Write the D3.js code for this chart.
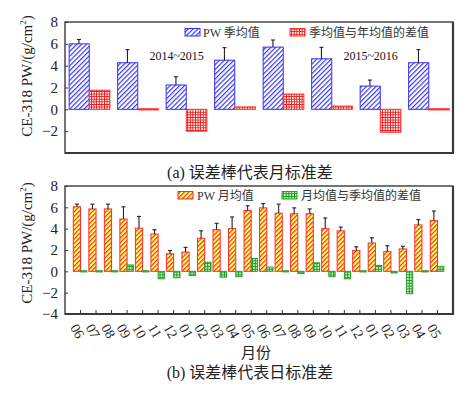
<!DOCTYPE html>
<html><head><meta charset="utf-8">
<script src="https://cdn.jsdelivr.net/npm/d3@7"></script>
<style>
body{margin:0;background:#fff;}
text{font-family:"Liberation Serif","Noto Sans CJK SC",serif;}
</style></head>
<body><svg id="c" width="474" height="394"></svg>
<script>
// ---- Panel (a) data: seasons ----
const seasonsA = ["S1","S2","S3","S4","S5","S6","S7","S8"];
const pwSeason = [6.0, 4.27, 2.23, 4.5, 5.7, 4.63, 2.13, 4.27];
const pwSeasonErr = [0.4, 1.2, 0.75, 1.15, 0.65, 1.05, 0.55, 1.2];
const seasonDiff = [1.75, -0.03, -2.0, 0.22, 1.4, 0.3, -2.1, -0.03];
const yearLabels = ["2014~2015","2015~2016"];
const yTicksA = [8,6,4,2,0,-2];
// ---- Panel (b) data: months ----
const months = ["06","07","08","09","10","11","12","01","02","03","04","05",
                "06","07","08","09","10","11","12","01","02","03","04","05"];
const pwMonth = [6.05,5.85,5.85,4.9,4.05,3.5,1.65,1.8,3.1,3.9,4.0,5.7,
                 5.95,5.45,5.4,5.4,4.0,3.8,1.95,2.65,1.85,2.1,4.35,4.75];
const pwMonthErr = [0.25,0.45,0.45,1.15,1.1,0.4,0.3,0.45,0.7,0.6,1.1,0.45,
                    0.4,0.85,0.55,0.45,1.0,0.35,0.35,0.5,0.55,0.25,0.5,0.9];
const monthDiff = [0.1,-0.1,-0.05,0.6,-0.1,-0.7,-0.6,-0.4,0.85,-0.55,-0.5,1.2,
                   0.4,-0.1,-0.2,0.8,-0.5,-0.7,-0.05,0.55,-0.15,-2.1,0.05,0.45];
const yTicksB = [8,6,4,2,0,-2,-4];

const svg = d3.select("#c");
const defs = svg.append("defs");
// blue hatch
let p = defs.append("pattern").attr("id","hBlue").attr("patternUnits","userSpaceOnUse")
  .attr("width",3.4).attr("height",3.4).attr("patternTransform","rotate(45)");
p.append("rect").attr("width",3.4).attr("height",3.4).attr("fill","#fff");
p.append("line").attr("x1",0.6).attr("x2",0.6).attr("y1",0).attr("y2",3.4).attr("stroke","#2828f0").attr("stroke-width",1.1);
// red grid
p = defs.append("pattern").attr("id","gRed").attr("patternUnits","userSpaceOnUse").attr("width",2.6).attr("height",2.6);
p.append("rect").attr("width",2.6).attr("height",2.6).attr("fill","#fff");
p.append("path").attr("d","M0,0.45H2.6M0.45,0V2.6").attr("stroke","#f21010").attr("stroke-width",0.95);
// yellow/red hatch
p = defs.append("pattern").attr("id","hYel").attr("patternUnits","userSpaceOnUse")
  .attr("width",3.2).attr("height",3.2).attr("patternTransform","rotate(45)");
p.append("rect").attr("width",3.2).attr("height",3.2).attr("fill","#ffff70");
p.append("line").attr("x1",0.6).attr("x2",0.6).attr("y1",0).attr("y2",3.2).attr("stroke","#f01818").attr("stroke-width",1.05);
// green grid
p = defs.append("pattern").attr("id","gGrn").attr("patternUnits","userSpaceOnUse").attr("width",2.8).attr("height",2.8);
p.append("rect").attr("width",2.8).attr("height",2.8).attr("fill","#d8f0d0");
p.append("path").attr("d","M0,0.5H2.8M0.5,0V2.8").attr("stroke","#1a9a1a").attr("stroke-width",1);

const L = 65, R = 453;

function frame(top, bottom){
  svg.append("rect").attr("x",L).attr("y",top).attr("width",R-L).attr("height",bottom-top)
    .attr("fill","none").attr("stroke","#3a3a3a").attr("stroke-width",1.4);
  svg.append("path").attr("d",`M${L},${bottom}H${R}V${top}`).attr("fill","none")
    .attr("stroke","#3a3a3a").attr("stroke-width",2.2);
}
function yAxis(y, ticks){
  const g = svg.append("g").attr("transform",`translate(${L},0)`)
    .call(d3.axisLeft(y).tickValues(ticks).tickSizeInner(-3).tickSizeOuter(0).tickPadding(7)
      .tickFormat(d => d < 0 ? "\u2212" + Math.abs(d) : d));
  g.select(".domain").remove();
  g.selectAll("line").attr("stroke","#333");
  g.selectAll("text").attr("font-size",15).attr("fill","#222")
    .attr("font-family","'Liberation Serif',serif");
}
function yLabel(cy){
  const t = svg.append("text").attr("transform",`translate(32,${cy}) rotate(-90)`)
    .attr("text-anchor","middle").attr("font-size",15).attr("fill","#222");
  t.append("tspan").text("CE-318 PW/(g/cm");
  t.append("tspan").text("2").attr("font-size",9).attr("dy",-6);
  t.append("tspan").text(")").attr("dy",6);
}
function errBars(data, xc, y, base){
  const g = svg.append("g");
  data.forEach(d => {
    const x = xc(d), y0 = y(d.v), y1 = y(d.v + d.e);
    g.append("line").attr("x1",x).attr("x2",x).attr("y1",y0).attr("y2",y1).attr("stroke","#222").attr("stroke-width",1.1);
    g.append("line").attr("x1",x-2).attr("x2",x+2).attr("y1",y1).attr("y2",y1).attr("stroke","#222").attr("stroke-width",1.1);
  });
}
function barRect(sel, x, w, y, v, fill, stroke){
  const y0 = y(0), y1 = y(v);
  let top = Math.min(y0,y1), h = Math.abs(y1-y0);
  if (h < 1.2){ h = 1.2; top = y0 - 0.6; }
  sel.append("rect").attr("x",x).attr("y",top).attr("width",w).attr("height",h)
    .attr("fill",fill).attr("stroke",stroke).attr("stroke-width",1);
}

// ================= Panel (a) =================
const yA = d3.scaleLinear().domain([-4,8]).range([153,22]);
const xA = d3.scaleBand().domain(seasonsA).range([L,R]).paddingInner(0.15).paddingOuter(0.075);
const bwA = xA.bandwidth()/2;
const ga = svg.append("g");
seasonsA.forEach((s,i) => {
  barRect(ga, xA(s)+0.5, bwA-0.5, yA, pwSeason[i], "url(#hBlue)", "#3030ff");
  barRect(ga, xA(s)+bwA, bwA, yA, seasonDiff[i], "url(#gRed)", "#ff3030");
});
errBars(seasonsA.map((s,i)=>({s, v:pwSeason[i], e:pwSeasonErr[i]})), d => xA(d.s)+bwA/2, yA);
frame(22,153);
yAxis(yA, yTicksA);
yLabel(76);
// year labels
[[2,0],[6,1]].forEach(([i,j]) => {
  svg.append("text").attr("x", xA(seasonsA[i]) + 11).attr("y", 60)
    .attr("text-anchor","middle").attr("font-size",12).attr("fill","#111").text(yearLabels[j]);
});
// legend (a)
svg.append("rect").attr("x",185).attr("y",28.5).attr("width",15).attr("height",7.5)
  .attr("fill","url(#hBlue)").attr("stroke","#3030ff");
svg.append("text").attr("x",203).attr("y",36.5).attr("font-size",12).attr("fill","#333").text("PW 季均值");
svg.append("rect").attr("x",290).attr("y",28.5).attr("width",15).attr("height",7.5)
  .attr("fill","url(#gRed)").attr("stroke","#ff3030");
svg.append("text").attr("x",309).attr("y",36.5).attr("font-size",12).attr("fill","#333").text("季均值与年均值的差值");
svg.append("text").attr("x",250).attr("y",178).attr("text-anchor","middle").attr("font-size",16)
  .attr("fill","#222").text("(a) 误差棒代表月标准差");

// ================= Panel (b) =================
const yB = d3.scaleLinear().domain([-4,8]).range([314,186]);
const idx = d3.range(months.length);
const xB = d3.scaleBand().domain(idx).range([L,R]).paddingInner(0.12).paddingOuter(0.56);
const bwB = xB.bandwidth();
const gb = svg.append("g");
idx.forEach(k => {
  const c = xB(k) + bwB/2;
  barRect(gb, c - 7.2, 7.2, yB, pwMonth[k], "url(#hYel)", "#ff2a2a");
  barRect(gb, c, 6.3, yB, monthDiff[k], "url(#gGrn)", "#2aa02a");
});
errBars(idx.map(k=>({k, v:pwMonth[k], e:pwMonthErr[k]})), d => xB(d.k)+bwB/2 - 3.6, yB);
frame(186,314);
yAxis(yB, yTicksB);
yLabel(243);
const gx = svg.append("g").attr("transform","translate(0,314)")
  .call(d3.axisBottom(xB).tickSizeInner(-4).tickSizeOuter(0).tickFormat(k => months[k]));
gx.select(".domain").remove();
gx.selectAll("line").attr("stroke","#333");
gx.selectAll("text").attr("font-size",14).attr("fill","#222")
  .attr("font-family","'Liberation Serif',serif")
  .attr("text-anchor","middle").attr("y",0).attr("dy","0.35em")
  .attr("transform","translate(-3,17) rotate(60)");
// legend (b)
svg.append("rect").attr("x",178).attr("y",191.5).attr("width",15).attr("height",7.5)
  .attr("fill","url(#hYel)").attr("stroke","#ff2a2a");
svg.append("text").attr("x",197).attr("y",199.5).attr("font-size",12).attr("fill","#333").text("PW 月均值");
svg.append("rect").attr("x",282).attr("y",191.5).attr("width",15).attr("height",7.5)
  .attr("fill","url(#gGrn)").attr("stroke","#2aa02a");
svg.append("text").attr("x",301).attr("y",199.5).attr("font-size",12).attr("fill","#333").text("月均值与季均值的差值");
svg.append("text").attr("x",256).attr("y",358).attr("text-anchor","middle").attr("font-size",15)
  .attr("fill","#222").text("月份");
svg.append("text").attr("x",250).attr("y",378).attr("text-anchor","middle").attr("font-size",16)
  .attr("fill","#222").text("(b) 误差棒代表日标准差");
</script></body></html>
